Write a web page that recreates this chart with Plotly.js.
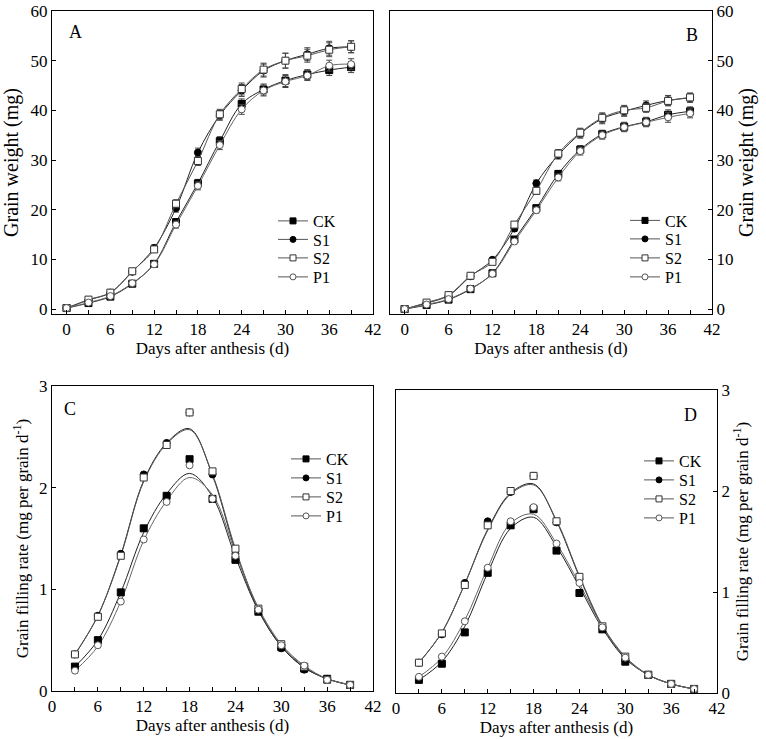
<!DOCTYPE html>
<html>
<head>
<meta charset="utf-8">
<script src="https://cdn.plot.ly/plotly-3.0.1.min.js"></script>
<style>html,body{margin:0;padding:0;background:#fff;}#chart{width:766px;height:739px;}</style>
</head>
<body>
<div id="chart"></div>
<script>
// ---------- data ----------
var seriesNames = ['CK', 'S1', 'S2', 'P1'];
var days = [0, 3, 6, 9, 12, 15, 18, 21, 24, 27, 30, 33, 36, 39];
var rateDays = [3, 6, 9, 12, 15, 18, 21, 24, 27, 30, 33, 36, 39];
var curveDays = [3, 6, 9, 12, 15, 18, 21, 24, 27, 30, 33, 36, 39];
var xTicks = [0, 6, 12, 18, 24, 30, 36, 42];
var panelLetters = ['A', 'B', 'C', 'D'];

// Panel A: grain weight (mg)
var aCK = [0.2, 1.2, 2.5, 5.1, 9.1, 17.5, 25.3, 33.8, 41.3, 44.2, 46.0, 47.2, 48.1, 48.7];
var aS1 = [0.2, 1.8, 3.3, 7.5, 12.3, 20.3, 31.5, 39.0, 44.0, 48.0, 50.0, 51.3, 52.5, 52.8];
var aS2 = [0.2, 1.9, 3.3, 7.6, 12.0, 21.2, 29.8, 39.2, 44.3, 48.2, 50.0, 51.0, 52.2, 52.8];
var aP1 = [0.2, 1.3, 2.6, 5.2, 9.0, 17.0, 24.8, 33.0, 40.2, 44.0, 45.8, 47.0, 49.0, 49.3];
var errAHigh = [0.2, 0.4, 0.5, 0.5, 0.6, 0.8, 0.9, 1.0, 1.2, 1.3, 1.5, 1.3, 1.4, 1.2];
var errALow = [0.2, 0.3, 0.4, 0.5, 0.6, 0.7, 0.8, 0.9, 1.0, 1.1, 1.2, 1.0, 1.1, 1.1];

// Panel B: grain weight (mg)
var bCK = [0, 0.8, 1.9, 4.0, 7.2, 14.0, 20.3, 27.2, 32.1, 35.2, 36.7, 37.7, 39.1, 39.8];
var bS1 = [0, 1.2, 2.7, 6.6, 9.9, 16.2, 25.3, 31.0, 35.3, 38.3, 39.8, 41.0, 42.0, 42.5];
var bS2 = [0, 1.3, 2.8, 6.7, 9.5, 17.0, 23.8, 31.3, 35.5, 38.5, 40.0, 40.5, 41.9, 42.6];
var bP1 = [0, 0.9, 2.0, 4.1, 7.1, 13.6, 19.9, 26.5, 31.8, 35.0, 36.6, 37.6, 38.6, 39.4];
var errBHigh = [0.1, 0.3, 0.4, 0.5, 0.5, 0.6, 0.7, 0.8, 0.9, 1.0, 1.0, 0.9, 1.0, 0.9];
var errBLow = [0.1, 0.3, 0.3, 0.4, 0.5, 0.5, 0.6, 0.7, 0.8, 0.8, 0.9, 0.9, 1.0, 0.9];

// Panel C: grain filling rate, observed points
var cCK = [0.24, 0.50, 0.97, 1.60, 1.92, 2.28, 1.89, 1.29, 0.78, 0.43, 0.22, 0.12, 0.06];
var cS1 = [0.36, 0.74, 1.35, 2.13, 2.44, 2.74, 2.13, 1.35, 0.79, 0.42, 0.21, 0.12, 0.06];
var cS2 = [0.36, 0.73, 1.33, 2.10, 2.42, 2.74, 2.16, 1.40, 0.81, 0.46, 0.24, 0.11, 0.06];
var cP1 = [0.20, 0.45, 0.88, 1.49, 1.86, 2.22, 1.89, 1.33, 0.80, 0.45, 0.25, 0.11, 0.06];
// Panel C: fitted curves
var cCKfit = [0.24, 0.50, 0.97, 1.56, 1.94, 2.14, 1.91, 1.32, 0.79, 0.44, 0.23, 0.12, 0.06];
var cS1fit = [0.36, 0.74, 1.34, 2.07, 2.44, 2.58, 2.12, 1.38, 0.80, 0.44, 0.23, 0.12, 0.06];
var cS2fit = [0.36, 0.74, 1.33, 2.06, 2.43, 2.57, 2.13, 1.40, 0.81, 0.45, 0.24, 0.12, 0.06];
var cP1fit = [0.20, 0.44, 0.88, 1.48, 1.87, 2.10, 1.93, 1.36, 0.82, 0.46, 0.25, 0.12, 0.06];

// Panel D: grain filling rate, observed points
var dCK = [0.13, 0.29, 0.60, 1.19, 1.66, 1.82, 1.41, 0.99, 0.63, 0.31, 0.18, 0.09, 0.04];
var dS1 = [0.30, 0.58, 1.09, 1.70, 1.99, 2.15, 1.69, 1.13, 0.65, 0.32, 0.18, 0.09, 0.04];
var dS2 = [0.30, 0.59, 1.07, 1.66, 2.00, 2.15, 1.70, 1.15, 0.66, 0.36, 0.18, 0.09, 0.04];
var dP1 = [0.16, 0.36, 0.71, 1.24, 1.70, 1.84, 1.48, 1.09, 0.65, 0.35, 0.18, 0.09, 0.04];
// Panel D: fitted curves
var dCKfit = [0.13, 0.31, 0.66, 1.19, 1.63, 1.74, 1.45, 1.05, 0.64, 0.34, 0.18, 0.09, 0.04];
var dS1fit = [0.30, 0.60, 1.08, 1.62, 1.98, 2.07, 1.70, 1.15, 0.66, 0.35, 0.18, 0.09, 0.04];
var dS2fit = [0.30, 0.60, 1.08, 1.61, 1.97, 2.06, 1.71, 1.16, 0.67, 0.36, 0.18, 0.09, 0.04];
var dP1fit = [0.16, 0.35, 0.72, 1.24, 1.68, 1.77, 1.48, 1.08, 0.66, 0.35, 0.18, 0.09, 0.04];

// ---------- styles ----------
var FONT = '"Liberation Serif", "Times New Roman", serif';
var styles = {
  CK: {lineColor: '#222', symbol: 'square', fill: '#000', edge: '#000'},
  S1: {lineColor: '#222', symbol: 'circle', fill: '#000', edge: '#000'},
  S2: {lineColor: '#555', symbol: 'square', fill: '#fff', edge: '#333'},
  P1: {lineColor: '#666', symbol: 'circle', fill: '#fff', edge: '#555'}
};
function markerOf(name, size) {
  var s = styles[name];
  return {symbol: s.symbol, size: size, color: s.fill, line: {color: s.edge, width: 1}};
}

// legend layout: [left px of legend box, centre y px of each entry]
var legendBoxes = [
  {left: 273, ys: [221, 239.5, 258, 277]},
  {left: 625, ys: [220.5, 239, 258, 277]},
  {left: 286, ys: [459, 478, 497, 516]},
  {left: 639, ys: [461, 480, 499, 518]}
];

var traces = [];
var legendCount = 0;
var legendLayouts = {};
function addLegendEntries(panel, ax, ay) {
  seriesNames.forEach(function (n, i) {
    legendCount += 1;
    var key = legendCount === 1 ? 'legend' : 'legend' + legendCount;
    var box = legendBoxes[panel];
    legendLayouts[key] = {
      x: box.left / 766, y: 1 - box.ys[i] / 739, xanchor: 'left', yanchor: 'middle',
      bgcolor: 'rgba(0,0,0,0)', borderwidth: 0, itemwidth: 30,
      font: {family: FONT, size: 16, color: '#000'}
    };
    traces.push({
      x: [null], y: [null], name: n, xaxis: ax, yaxis: ay, legend: key,
      mode: 'lines+markers', type: 'scatter', hoverinfo: 'skip',
      line: {color: '#555', width: 1}, marker: markerOf(n, 6)
    });
  });
}

function weightPanel(panel, ax, ay, vals, errs) {
  seriesNames.forEach(function (n, i) {
    traces.push({
      x: days, y: vals[i], name: n, xaxis: ax, yaxis: ay, showlegend: false,
      mode: 'lines+markers', type: 'scatter',
      line: {color: styles[n].lineColor, width: 1, shape: 'spline', smoothing: 1},
      marker: markerOf(n, 7),
      error_y: {type: 'data', array: errs[i], visible: true, thickness: 1, width: 3, color: '#444'}
    });
  });
  addLegendEntries(panel, ax, ay);
}
function ratePanel(panel, ax, ay, pts, fits) {
  seriesNames.forEach(function (n, i) {
    traces.push({
      x: curveDays, y: fits[i], xaxis: ax, yaxis: ay, mode: 'lines', type: 'scatter',
      showlegend: false, hoverinfo: 'skip',
      line: {color: styles[n].lineColor, width: 1, shape: 'spline', smoothing: 1}
    });
  });
  seriesNames.forEach(function (n, i) {
    traces.push({
      x: rateDays, y: pts[i], name: n, xaxis: ax, yaxis: ay, mode: 'markers', type: 'scatter',
      showlegend: false, marker: markerOf(n, 7)
    });
  });
  addLegendEntries(panel, ax, ay);
}

weightPanel(0, 'x', 'y', [aCK, aS1, aS2, aP1], [errALow, errAHigh, errAHigh, errALow]);
weightPanel(1, 'x2', 'y2', [bCK, bS1, bS2, bP1], [errBLow, errBHigh, errBHigh, errBLow]);
ratePanel(2, 'x3', 'y3', [cCK, cS1, cS2, cP1], [cCKfit, cS1fit, cS2fit, cP1fit]);
ratePanel(3, 'x4', 'y4', [dCK, dS1, dS2, dP1], [dCKfit, dS1fit, dS2fit, dP1fit]);

function px(x) { return x / 766; }
function py(y) { return 1 - y / 739; }

function xAxis(dom, anchor, range) {
  return {
    domain: dom, anchor: anchor, range: range, tickmode: 'array', tickvals: xTicks,
    showline: true, mirror: true, linecolor: '#000', linewidth: 1,
    ticks: 'inside', ticklen: 4, tickcolor: '#000',
    minor: {dtick: 3, tick0: 0, ticks: 'inside', ticklen: 4, tickcolor: '#000', showgrid: false},
    showgrid: false, zeroline: false, tickfont: {family: FONT, size: 17, color: '#000'},
    title: {text: 'Days after anthesis (d)', font: {family: FONT, size: 17, color: '#000'}, standoff: 2}
  };
}
function yAxis(dom, anchor, range, dtick, side, title, tsize) {
  return {
    domain: dom, anchor: anchor, range: range, dtick: dtick, tick0: 0, side: side,
    showline: true, mirror: true, linecolor: '#000', linewidth: 1,
    ticks: 'inside', ticklen: 4, tickcolor: '#000',
    showgrid: false, zeroline: false, tickfont: {family: FONT, size: 17, color: '#000'},
    title: {text: title, font: {family: FONT, size: tsize, color: '#000'}, standoff: 6}
  };
}
var rateTitle = 'Grain filling rate (mg per grain d<sup>-1</sup>)';
var weightTitle = 'Grain weight (mg)';

var letterPos = [[75, 32], [692, 35], [70, 409], [690, 415]];
var annotations = panelLetters.map(function (t, i) {
  return {text: t, xref: 'paper', yref: 'paper', x: px(letterPos[i][0]), y: py(letterPos[i][1]),
    xanchor: 'center', yanchor: 'middle', showarrow: false, font: {family: FONT, size: 18, color: '#000'}};
});

var layout = {
  width: 766, height: 739,
  margin: {l: 0, r: 0, t: 0, b: 0},
  paper_bgcolor: '#fff', plot_bgcolor: '#fff',
  font: {family: FONT, color: '#000'},
  xaxis: xAxis([px(52), px(373)], 'y', [-2, 42]),
  yaxis: yAxis([py(314), py(11)], 'x', [-1, 60], 10, 'left', weightTitle, 20),
  xaxis2: xAxis([px(390), px(712)], 'y2', [-2, 42]),
  yaxis2: yAxis([py(314), py(11)], 'x2', [-1, 60], 10, 'right', weightTitle, 20),
  xaxis3: xAxis([px(52), px(373)], 'y3', [0, 42]),
  yaxis3: yAxis([py(691), py(386)], 'x3', [0, 3], 1, 'left', rateTitle, 17),
  xaxis4: xAxis([px(396), px(717)], 'y4', [0, 42]),
  yaxis4: yAxis([py(693), py(390)], 'x4', [0, 3], 1, 'right', rateTitle, 17),
  annotations: annotations,
  showlegend: true
};
Object.keys(legendLayouts).forEach(function (k) { layout[k] = legendLayouts[k]; });

Plotly.newPlot('chart', traces, layout, {displayModeBar: false, staticPlot: true});
</script>
</body>
</html>
